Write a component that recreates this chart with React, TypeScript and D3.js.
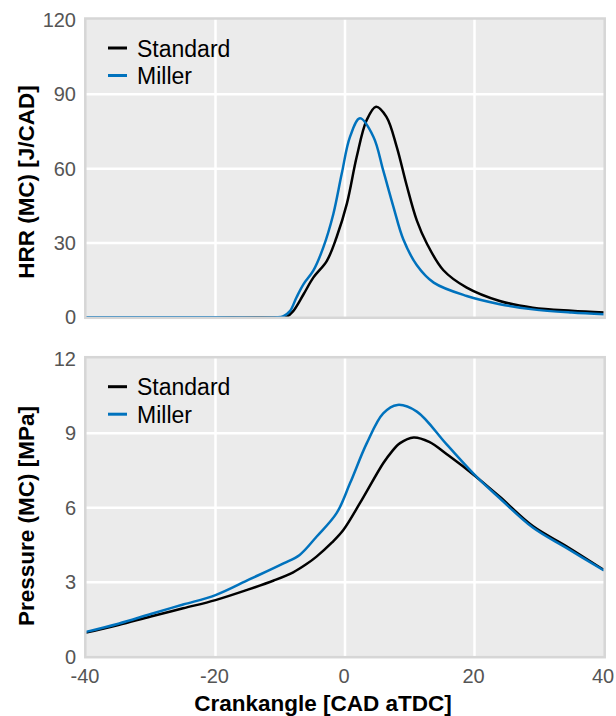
import React from "react";
import * as d3 from "d3";

const xTicks = [-40, -20, 0, 20, 40];
const hrrTicks = [0, 30, 60, 90, 120];
const presTicks = [0, 3, 6, 9, 12];
const seriesNames = ["Standard", "Miller"];

const hrrStdX = [-40, -20, -10, -9, -8, -6.4, -4.9, -2.8, -1.3, 0.3, 1.8, 3.35, 4.8, 6.4, 8, 9.5, 11.1, 12.6, 15.2, 18.8, 23.9, 29, 35, 40];
const hrrStdY = [0, 0, 0, 0.3, 2.5, 9.3, 16, 22.8, 32.3, 46, 64.7, 79.6, 85, 80.9, 68.7, 53.5, 39, 30, 19, 12, 6.6, 3.9, 2.6, 1.9];

const hrrMilX = [-40, -20, -10.5, -9.5, -8.5, -7.5, -6.4, -4.9, -3.35, -1.8, -0.5, 0.77, 2.3, 4.4, 5.9, 7.5, 9.0, 11.1, 13.7, 18.8, 23.9, 29, 35, 40];
const hrrMilY = [0, 0, 0, 0.5, 2.5, 8, 13.4, 18.8, 28.2, 41.7, 58, 72.8, 80.3, 72.8, 59.3, 44.4, 31.5, 21, 14, 8.6, 5.3, 3.2, 1.9, 1.2];

const presStdX = [-40, -35, -30, -25, -20, -15, -11, -8, -6, -4.4, -2, -0.26, 2.3, 5.9, 7.2, 8.5, 10.6, 13, 16, 20, 23.9, 29, 34.2, 40];
const presStdY = [0.97, 1.28, 1.62, 1.95, 2.28, 2.7, 3.07, 3.4, 3.72, 4.03, 4.6, 5.1, 6.18, 7.79, 8.25, 8.6, 8.83, 8.65, 8.1, 7.3, 6.44, 5.26, 4.45, 3.49];

const presMilX = [-40, -35, -30, -25, -20, -14.7, -9.5, -7, -4.4, -1.3, 0.77, 3.35, 5.9, 8.1, 11.1, 15.7, 20.3, 23.9, 29, 34.2, 40];
const presMilY = [1.0, 1.33, 1.72, 2.1, 2.48, 3.12, 3.76, 4.1, 4.83, 5.78, 6.98, 8.59, 9.8, 10.14, 9.87, 8.55, 7.25, 6.38, 5.2, 4.38, 3.47];

const colors = ["#000000", "#0072bd"];
const FONT = "'Liberation Sans', Arial, sans-serif";

const x = d3.scaleLinear().domain([-40, 40]).range([86, 604]);

function Panel({ y0, y1, domain, ticks, series, ylabel, labelY, showX }) {
  const y = d3.scaleLinear().domain(domain).range([y1, y0]);
  const line = d3
    .line()
    .x((d) => x(d[0]))
    .y((d) => y(d[1]))
    .curve(d3.curveCatmullRom.alpha(0.5));
  const top = y0 - 1.5;
  const bot = y1 + 0.5;
  return (
    <g>
      <rect x={85.5} y={top} width={519} height={bot - top} fill="#ebebeb" />
      {xTicks.slice(1, -1).map((t) => (
        <line key={"gx" + t} x1={x(t)} x2={x(t)} y1={top} y2={bot} stroke="#fff" strokeWidth={2.5} />
      ))}
      {ticks.slice(1, -1).map((t) => (
        <line key={"gy" + t} x1={85.5} x2={604.5} y1={y(t)} y2={y(t)} stroke="#fff" strokeWidth={2.5} />
      ))}
      {series.map((s, i) => (
        <path
          key={i}
          d={line(s.xs.map((v, j) => [v, s.ys[j]]))}
          fill="none"
          stroke={colors[i]}
          strokeWidth={2.5}
        />
      ))}
      <rect x={85.3} y={top} width={519.4} height={bot - top} fill="none" stroke="#d6d6d6" strokeWidth={2.5} />
      {ticks.map((t) => (
        <text
          key={"ty" + t}
          x={76}
          y={y(t) + 7}
          textAnchor="end"
          fontSize={20}
          fontFamily={FONT}
          fill="#555"
        >
          {t}
        </text>
      ))}
      {showX &&
        xTicks.map((t) => (
          <text key={"tx" + t} x={x(t) - 1} y={683} textAnchor="middle" fontSize={20} fontFamily={FONT} fill="#555">
            {t}
          </text>
        ))}
      <text
        transform={`translate(33.5,${labelY}) rotate(-90)`}
        textAnchor="middle"
        fontSize={22.5}
        fontWeight="bold"
        fontFamily={FONT}
        fill="#000"
      >
        {ylabel}
      </text>
      {seriesNames.map((n, i) => (
        <g key={n}>
          <line
            x1={108}
            x2={127}
            y1={y0 + 28 + i * 27.5}
            y2={y0 + 28 + i * 27.5}
            stroke={colors[i]}
            strokeWidth={3}
          />
          <text x={137} y={y0 + 36.5 + i * 27.5} fontSize={23} fontFamily={FONT} fill="#000">
            {n}
          </text>
        </g>
      ))}
    </g>
  );
}

export default function App() {
  return (
    <svg width={616} height={716} style={{ position: "absolute", left: 0, top: 0 }}>
      <rect width={616} height={716} fill="#fff" />
      <Panel
        y0={20}
        y1={317.3}
        domain={[0, 120]}
        ticks={hrrTicks}
        series={[
          { xs: hrrStdX, ys: hrrStdY },
          { xs: hrrMilX, ys: hrrMilY },
        ]}
        ylabel="HRR (MC) [J/CAD]"
        labelY={182}
        showX={false}
      />
      <Panel
        y0={358.7}
        y1={656.7}
        domain={[0, 12]}
        ticks={presTicks}
        series={[
          { xs: presStdX, ys: presStdY },
          { xs: presMilX, ys: presMilY },
        ]}
        ylabel="Pressure (MC) [MPa]"
        labelY={516}
        showX={true}
      />
      <text x={323} y={711} textAnchor="middle" fontSize={22.5} fontWeight="bold" fontFamily={FONT} fill="#000">
        Crankangle [CAD aTDC]
      </text>
    </svg>
  );
}
